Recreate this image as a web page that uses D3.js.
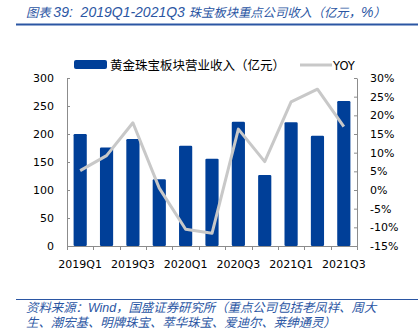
<!DOCTYPE html>
<html>
<head>
<meta charset="utf-8">
<script src="https://cdn.jsdelivr.net/npm/d3@7"></script>
<style>
  html, body { margin: 0; padding: 0; background: #fff; }
  svg { display: block; }
</style>
</head>
<body>
<svg id="chart" width="418" height="329"></svg>
<script>
// Quarterly revenue of key jewellery companies (100m CNY) and YoY growth (%)
const categories = ['2019Q1','2019Q2','2019Q3','2019Q4','2020Q1','2020Q2','2020Q3','2020Q4','2021Q1','2021Q2','2021Q3'];
const revenue = [200, 176, 191, 119, 179, 156, 222, 127, 221, 197, 259];
const yoy = [5.2, 9.2, 18.0, 0.5, -10.5, -11.6, 16.3, 7.6, 23.6, 27.0, 17.0];
const leftTicks = [0, 50, 100, 150, 200, 250, 300];
const rightTicks = [-15, -10, -5, 0, 5, 10, 15, 20, 25, 30];
const xLabels = ['2019Q1','2019Q3','2020Q1','2020Q3','2021Q1','2021Q3'];

// Title pieces: [text, isLatin]
const titleParts = [
  ['图表 ', false],
  ['39:  2019Q1-2021Q3 ', true],
  ['珠宝板块重点公司收入（亿元，', false],
  ['%', true],
  ['）', false]
];
const barName = '黄金珠宝板块营业收入（亿元）';
const lineName = 'YOY';
const sourceLines = [
  '资料来源：Wind，国盛证券研究所（重点公司包括老凤祥、周大',
  '生、潮宏基、明牌珠宝、萃华珠宝、爱迪尔、莱绅通灵）'
];

const BLUE = '#003f98';
const GREY = '#c8c8c8';
const HEAD = '#2b56a3';
const AXIS = '#8c8c8c';
const FONT = '"DejaVu Sans", Verdana, sans-serif';
const CJK = '"Noto Sans CJK SC", sans-serif';
const LATIN = '"Liberation Sans", Arial, sans-serif';
const NOTE = '"Liberation Sans", "Noto Sans CJK SC", sans-serif';

const svg = d3.select('#chart');

// Header
const title = svg.append('text')
  .attr('x', 26).attr('y', 17)
  .attr('font-style', 'italic').attr('fill', HEAD)
  .attr('xml:space', 'preserve').style('white-space', 'pre');
title.selectAll('tspan').data(titleParts).join('tspan')
  .attr('font-family', d => d[1] ? LATIN : CJK)
  .attr('font-size', d => d[1] ? 14 : 12.3)
  .text(d => d[0]);
svg.append('line')
  .attr('x1', 16).attr('x2', 418).attr('y1', 24.5).attr('y2', 24.5)
  .attr('stroke', HEAD).attr('stroke-width', 2);

// Scales
const x = d3.scaleBand().domain(categories).range([67, 357]).paddingInner(0.5).paddingOuter(0.25);
const yL = d3.scaleLinear().domain([0, 300]).range([246, 78]);
const yR = d3.scaleLinear().domain([-15, 30]).range([246, 78]);

// Axes
const gL = svg.append('g').attr('transform', 'translate(67,0)')
  .call(d3.axisLeft(yL).tickValues(leftTicks).tickSizeInner(-3).tickSizeOuter(0).tickPadding(13));
const gR = svg.append('g').attr('transform', 'translate(357,0)')
  .call(d3.axisRight(yR).tickValues(rightTicks).tickSizeInner(-3).tickSizeOuter(0).tickPadding(13)
    .tickFormat(d => d + '%'));
[gL, gR].forEach(g => {
  g.select('.domain').attr('stroke', AXIS);
  g.selectAll('.tick line').attr('stroke', AXIS);
  g.selectAll('.tick text').attr('font-family', FONT).attr('font-size', 11).attr('fill', '#000');
});

// Bars
svg.append('g').selectAll('rect').data(revenue).join('rect')
  .attr('x', (d, i) => x(categories[i]))
  .attr('width', x.bandwidth())
  .attr('y', d => yL(d))
  .attr('height', d => yL(0) - yL(d))
  .attr('rx', 1.2)
  .attr('fill', BLUE);

// Category axis: boundary ticks, every second label
const xBoundaries = d3.range(categories.length + 1).map(i => 67 + (290 / categories.length) * i);
const gB = svg.append('g');
gB.append('line').attr('x1', 67).attr('x2', 357).attr('y1', 246.5).attr('y2', 246.5).attr('stroke', AXIS);
gB.selectAll('line.t').data(xBoundaries).join('line').attr('class', 't')
  .attr('x1', d => Math.round(d) + 0.5).attr('x2', d => Math.round(d) + 0.5)
  .attr('y1', 246).attr('y2', 250).attr('stroke', AXIS);
gB.selectAll('text').data(xLabels).join('text')
  .attr('x', d => x(d) + x.bandwidth() / 2)
  .attr('y', 268)
  .attr('text-anchor', 'middle')
  .attr('font-family', FONT).attr('font-size', 11).attr('fill', '#000')
  .text(d => d);

// YoY line
const line = d3.line()
  .x((d, i) => x(categories[i]) + x.bandwidth() / 2)
  .y(d => yR(d));
svg.append('path').datum(yoy)
  .attr('d', line)
  .attr('fill', 'none').attr('stroke', GREY).attr('stroke-width', 3)
  .attr('stroke-linejoin', 'round');

// Legend
const lg = svg.append('g');
lg.append('rect').attr('x', 74).attr('y', 60).attr('width', 33).attr('height', 9).attr('rx', 2).attr('fill', BLUE);
lg.append('text').attr('x', 110).attr('y', 69.5)
  .attr('font-family', CJK).attr('font-size', 12.5).attr('fill', '#000')
  .text(barName);
lg.append('line').attr('x1', 300).attr('x2', 332).attr('y1', 65).attr('y2', 65)
  .attr('stroke', GREY).attr('stroke-width', 3);
lg.append('text').attr('x', 333).attr('y', 69.5)
  .attr('font-family', FONT).attr('font-size', 11.5).attr('fill', '#000')
  .text(lineName);

// Source note
svg.append('line')
  .attr('x1', 16).attr('x2', 418).attr('y1', 299.5).attr('y2', 299.5)
  .attr('stroke', HEAD).attr('stroke-width', 1.2);
svg.append('g').selectAll('text').data(sourceLines).join('text')
  .attr('x', 26).attr('y', (d, i) => 312 + i * 14.5)
  .attr('font-family', NOTE).attr('font-style', 'italic')
  .attr('font-size', 12.4).attr('fill', HEAD)
  .text(d => d);
</script>
</body>
</html>
